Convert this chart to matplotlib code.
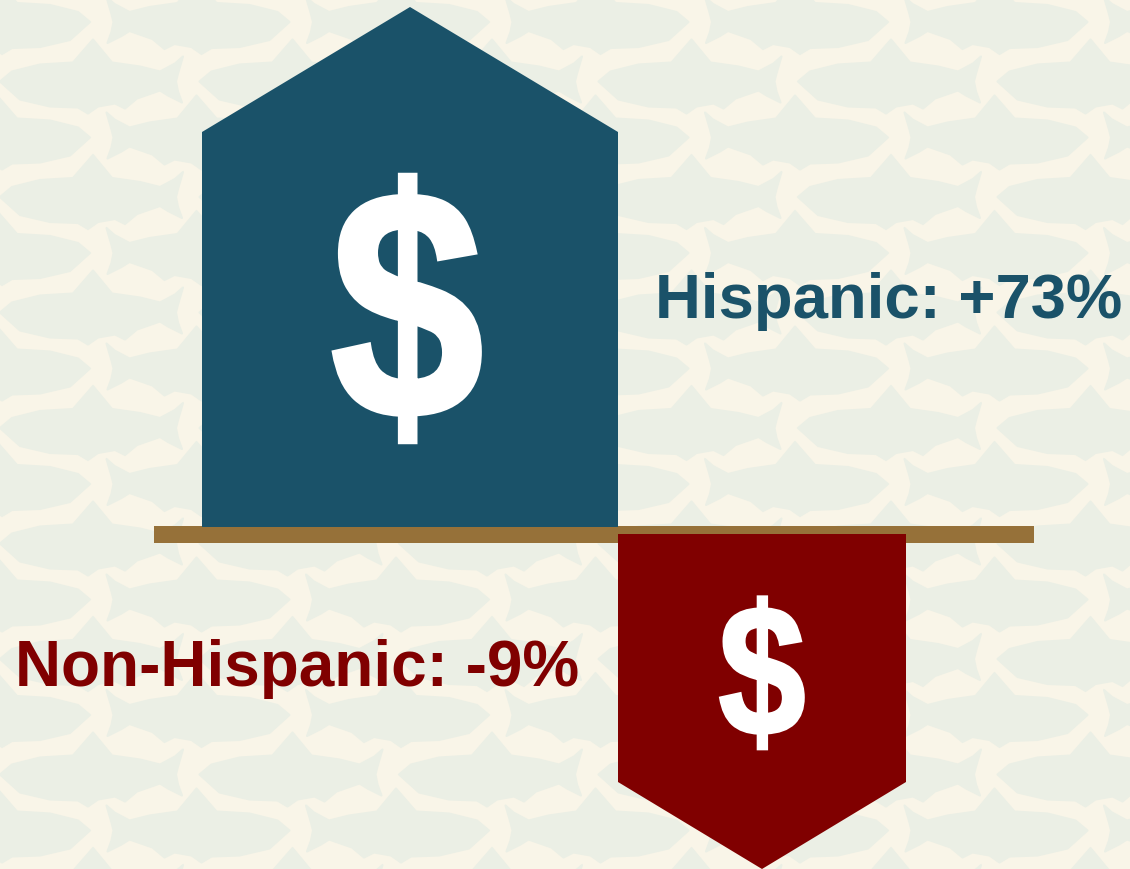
import matplotlib
matplotlib.use("Agg")
import matplotlib.pyplot as plt
import matplotlib.patheffects as pe
from matplotlib.patches import Polygon, Rectangle
from matplotlib.transforms import Affine2D

# --- data ---
groups = ["Hispanic", "Non-Hispanic"]
percent_change = ["+73%", "-9%"]
colors = ["#1a5269", "#800000"]

# --- layout (pixel coordinates of the slide) ---
W, H = 1130, 869
BG = "#f9f5e8"
FISH = "#ebefe5"
up_arrow = [(202, 527), (202, 132), (410, 7), (618, 132), (618, 527)]
down_arrow = [(618, 534), (618, 782), (762, 869), (906, 782), (906, 534)]
shelf = (154, 526, 880, 17)


class Squeeze(pe.AbstractPathEffect):
    """Narrow a glyph horizontally about x=cx (pixels) and embolden it with a stroke."""

    def __init__(self, cx, factor, stroke):
        super().__init__()
        self.cx, self.factor, self.stroke = cx, factor, stroke

    def draw_path(self, renderer, gc, tpath, affine, rgbFace=None):
        t = affine + Affine2D().translate(-self.cx, 0).scale(self.factor, 1).translate(self.cx, 0)
        gc0 = renderer.new_gc()
        gc0.copy_properties(gc)
        gc0.set_foreground("white")
        gc0.set_linewidth(self.stroke)
        gc0.set_joinstyle("miter")
        renderer.draw_path(gc0, tpath, t, rgbFace)
        gc0.restore()


fig = plt.figure(figsize=(W / 100, H / 100), dpi=100, facecolor=BG)
ax = fig.add_axes([0, 0, 1, 1])
ax.set_xlim(0, W)
ax.set_ylim(H, 0)
ax.axis("off")

# faint fish wallpaper: unit fish, nose at (0,0), tail towards +x
fish = [(0, 0), (12, -10), (40, -17), (73, -19), (93, -42), (112, -19), (140, -15),
        (160, -10), (175, -18), (183, -25), (178, -8), (176, 0), (178, 10), (182, 21),
        (168, 14), (160, 9), (137, 17), (125, 27), (115, 22), (98, 25), (88, 32),
        (78, 26), (50, 25), (20, 18)]
PX, PY = 199.5, 115.5
for row in range(-1, 9):
    for col in range(-1, 7):
        ax.add_patch(Polygon(fish, closed=True, fc=FISH, ec=FISH, lw=1.5, joinstyle="round", zorder=1,
                             transform=Affine2D().scale(-1, 1).translate(90 + col * PX, 22 + row * PY) + ax.transData))
        ax.add_patch(Polygon(fish, closed=True, fc=FISH, ec=FISH, lw=1.5, joinstyle="round", zorder=1,
                             transform=Affine2D().translate(col * PX, 81.5 + row * PY) + ax.transData))

ax.add_patch(Rectangle(shelf[:2], shelf[2], shelf[3], fc="#967139", ec="none", zorder=2))
ax.add_patch(Polygon(up_arrow, closed=True, fc=colors[0], ec="none", zorder=3))
ax.add_patch(Polygon(down_arrow, closed=True, fc=colors[1], ec="none", zorder=3))

FONT = "Liberation Sans"
ax.text(407, 299, "$", color="white", fontsize=235, family=FONT, fontweight="bold",
        ha="center", va="center_baseline", zorder=4, path_effects=[Squeeze(407, 0.84, 3.6)])
ax.text(762, 667.5, "$", color="white", fontsize=134, family=FONT, fontweight="bold",
        ha="center", va="center_baseline", zorder=4, path_effects=[Squeeze(762, 0.84, 2.2)])

ax.text(655, 318, f"{groups[0]}: {percent_change[0]}", color=colors[0], fontsize=45.7,
        family=FONT, fontweight="bold", ha="left", va="baseline", zorder=4)
ax.text(15, 686, f"{groups[1]}: {percent_change[1]}", color=colors[1], fontsize=46,
        family=FONT, fontweight="bold", ha="left", va="baseline", zorder=4)

fig.savefig("out.png", dpi=100, facecolor=BG)
